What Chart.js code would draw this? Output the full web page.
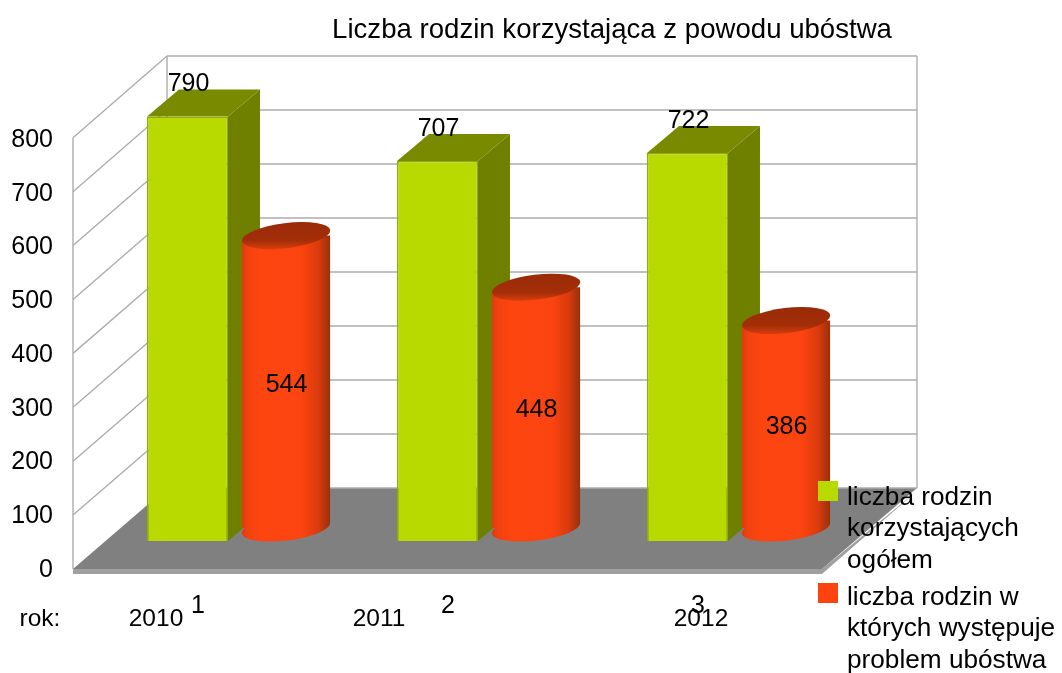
<!DOCTYPE html>
<html><head><meta charset="utf-8">
<style>html,body{margin:0;padding:0;background:#fff}canvas{display:block}</style>
<script src="https://cdn.jsdelivr.net/npm/chart.js@4"></script>
</head><body><canvas id="c" width="1062" height="673"></canvas>
<script>
const categories = ['1', '2', '3'];
const totalFamilies = [790, 707, 722];
const povertyFamilies = [544, 448, 386];
const seriesNames = ['liczba rodzin korzystających ogółem', 'liczba rodzin w których występuje problem ubóstwa'];
const legendLines = [['liczba rodzin', 'korzystających', 'ogółem'], ['liczba rodzin w', 'których występuje', 'problem ubóstwa']];
const yearLabels = ['rok:', '2010', '2011', '2012'];
const yearX = [40, 156, 379, 701];
const titleText = 'Liczba rodzin korzystająca z powodu ubóstwa';
const wallTicks = [0, 100, 200, 300, 400, 500, 600, 700, 800];

const FONT = '"Liberation Sans", Arial, sans-serif';
const GREEN = '#b9da00', RED = '#fd4410';

function text(ctx, s, x, y, size, align) {
  ctx.font = size + 'px ' + FONT;
  ctx.fillStyle = '#000';
  ctx.textAlign = align || 'left';
  ctx.textBaseline = 'middle';
  ctx.fillText(s, x, y);
}
function poly(ctx, pts, fill) {
  ctx.beginPath();
  pts.forEach((p, i) => i ? ctx.lineTo(p[0], p[1]) : ctx.moveTo(p[0], p[1]));
  ctx.closePath();
  ctx.fillStyle = fill;
  ctx.fill();
}
function hGrad(ctx, x, w) {
  const g = ctx.createLinearGradient(x, 0, x + w, 0);
  g.addColorStop(0, '#dc3b0e');
  g.addColorStop(0.07, '#f04210');
  g.addColorStop(0.2, '#fd4510');
  g.addColorStop(0.68, '#fb4410');
  g.addColorStop(0.87, '#d83a0e');
  g.addColorStop(1, '#95300a');
  return g;
}
const ROT = -7 * Math.PI / 180, RY = 12.5;

const scene = {
  id: 'scene',
  beforeDatasetsDraw(chart) {
    const ctx = chart.ctx, yw = chart.scales.yWall, yf = chart.scales.yFront;
    const backL = 167, backR = 917, frontL = 73, frontR = 822;
    ctx.save();
    // floor
    const y0b = yw.getPixelForValue(0), y0f = yf.getPixelForValue(0);
    poly(ctx, [[frontL, y0f], [frontR, y0f], [backR, y0b + 3], [frontR, y0f + 5], [frontL, y0f + 5]], '#a0a0a0');
    poly(ctx, [[backL, y0b], [backR, y0b], [frontR, y0f], [frontL, y0f]], '#808080');
    // walls
    ctx.strokeStyle = '#adadad';
    ctx.lineWidth = 1.4;
    wallTicks.forEach(v => {
      const yb = yw.getPixelForValue(v), yfr = yf.getPixelForValue(v);
      ctx.beginPath();
      if (v > 0) { ctx.moveTo(frontL, yfr); ctx.lineTo(backL, yb); }
      ctx.moveTo(backL, yb); ctx.lineTo(backR, yb);
      ctx.stroke();
    });
    ctx.beginPath();
    ctx.moveTo(frontL, yf.getPixelForValue(800)); ctx.lineTo(frontL, y0f);
    ctx.moveTo(backL, yw.getPixelForValue(800)); ctx.lineTo(backL, y0b);
    ctx.moveTo(backR, yw.getPixelForValue(800)); ctx.lineTo(backR, y0b);
    ctx.stroke();
    // box depth faces
    const dx = 32, dy = 27;
    chart.getDatasetMeta(0).data.forEach(el => {
      const l = el.x - el.width / 2, r = el.x + el.width / 2, t = el.y, b = el.base;
      poly(ctx, [[r, t], [r + dx, t - dy], [r + dx, b - dy], [r, b]], '#6f8000');
      poly(ctx, [[l, t], [l + dx, t - dy], [r + dx, t - dy], [r, t]], '#798a00');
    });
    // cylinder bottoms and gradients
    chart.getDatasetMeta(1).data.forEach(el => {
      const rx = el.width / 2, g = hGrad(ctx, el.x - rx, el.width);
      el.options = Object.assign({}, el.options, { backgroundColor: g });
      ctx.beginPath();
      ctx.ellipse(el.x, el.base, rx, RY, ROT, 0, Math.PI * 2);
      ctx.fillStyle = g;
      ctx.fill();
    });
    ctx.restore();
  },
  beforeDatasetDraw(chart, args) {
    if (args.index !== 1) return;
    const ctx = chart.ctx;
    ctx.save();
    ctx.beginPath();
    chart.getDatasetMeta(1).data.forEach(el => {
      const rx = el.width / 2, s = rx * Math.sin(-ROT), c = rx * Math.cos(ROT);
      ctx.moveTo(el.x - c, el.y + s);
      ctx.lineTo(el.x + c, el.y - s);
      ctx.lineTo(el.x + c, el.base - s);
      ctx.lineTo(el.x - c, el.base + s);
      ctx.closePath();
    });
    ctx.clip();
  },
  afterDatasetDraw(chart, args) {
    if (args.index === 1) chart.ctx.restore();
  },
  afterDatasetsDraw(chart) {
    const ctx = chart.ctx;
    ctx.save();
    // cylinder tops
    chart.getDatasetMeta(1).data.forEach((el, i) => {
      const rx = el.width / 2;
      const g = ctx.createLinearGradient(0, el.y - RY, 0, el.y + RY);
      g.addColorStop(0, '#9a2b08');
      g.addColorStop(0.7, '#a32e08');
      g.addColorStop(1, '#d03c0e');
      ctx.beginPath();
      ctx.ellipse(el.x, el.y, rx, RY, ROT, 0, Math.PI * 2);
      ctx.fillStyle = g;
      ctx.fill();
      text(ctx, String(povertyFamilies[i]), el.x + 0.5, (el.y + el.base) / 2 + 3, 25, 'center');
    });
    // value labels above boxes
    chart.getDatasetMeta(0).data.forEach((el, i) => {
      text(ctx, String(totalFamilies[i]), el.x + 1, el.y - 32, 25, 'center');
    });
    // title, years, legend
    text(ctx, titleText, 612, 30, 27.6, 'center');
    yearLabels.forEach((s, i) => text(ctx, s, yearX[i], 619, 24.5, 'center'));
    const swatchY = [481, 583], lineY = [[497.5, 528.5, 561], [598, 629, 661]];
    [GREEN, RED].forEach((col, k) => {
      ctx.fillStyle = col;
      ctx.fillRect(818, swatchY[k], 20, 20);
      legendLines[k].forEach((ln, j) => text(ctx, ln, 847, lineY[k][j], 26.2));
    });
    ctx.restore();
  }
};

new Chart(document.getElementById('c'), {
  type: 'bar',
  data: {
    labels: categories,
    datasets: [
      { label: seriesNames[0], data: totalFamilies, backgroundColor: GREEN, borderColor: '#8fae00', borderWidth: 1.5, yAxisID: 'y', barPercentage: 0.822, categoryPercentage: 0.788 },
      { label: seriesNames[1], data: povertyFamilies, backgroundColor: RED, borderWidth: 0, yAxisID: 'yCyl', barPercentage: 0.904, categoryPercentage: 0.788 }
    ]
  },
  plugins: [scene],
  options: {
    responsive: false,
    animation: false,
    layout: { padding: { left: 0, top: 111, right: 200.25, bottom: 0 } },
    plugins: { legend: { display: false }, title: { display: false }, tooltip: { enabled: false } },
    scales: {
      x: {
        type: 'category',
        grid: { display: false, drawTicks: false },
        border: { display: false },
        ticks: { color: '#000', font: { family: FONT, size: 25 }, labelOffset: -38.75, padding: 50, maxRotation: 0 },
        afterFit(s) { s.height = 132; }
      },
      y: {
        type: 'linear', min: 0, max: 800,
        grid: { display: false, drawTicks: false },
        border: { display: false },
        ticks: { color: '#000', font: { family: FONT, size: 25 }, stepSize: 100, labelOffset: 29, padding: 58.75 },
        afterFit(s) { s.width = 111.75; }
      },
      yCyl: { type: 'linear', display: false, min: -24.2, max: 775.8 },
      yWall: { type: 'linear', display: false, min: -98.1, max: 698.1 },
      yFront: { type: 'linear', display: false, min: 51.9, max: 849.7 }
    }
  }
});
</script>
</body></html>
